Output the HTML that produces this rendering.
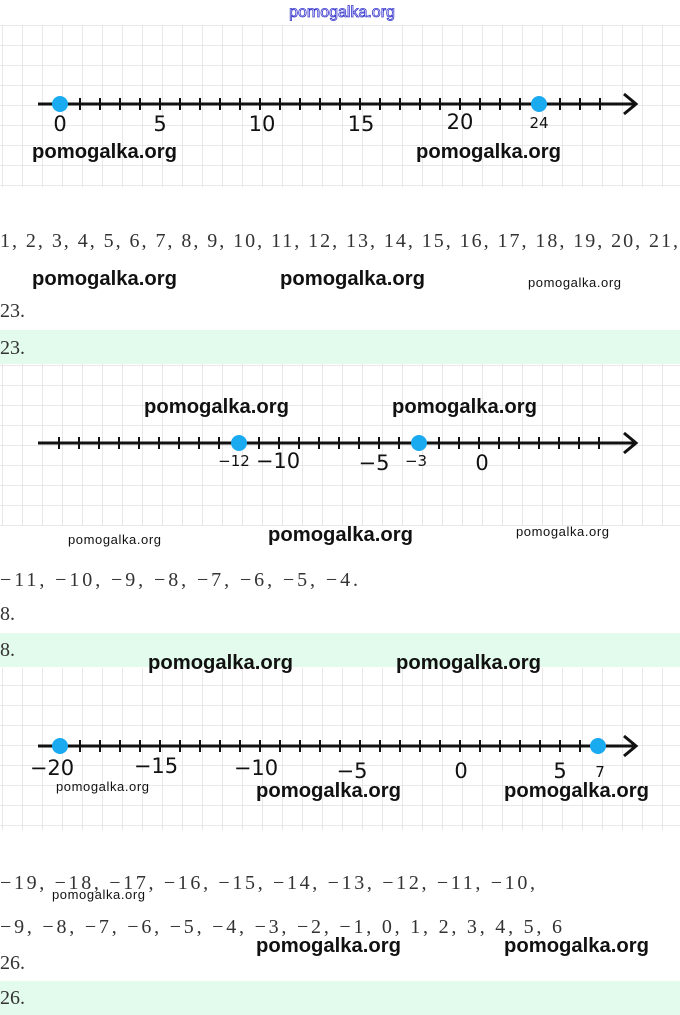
<!DOCTYPE html>
<html><head><meta charset="utf-8"><style>
body{margin:0;background:#fff}
svg{display:block}
.w{font-family:"Liberation Sans",sans-serif;font-size:20px;font-weight:bold;fill:#111}
.ws{font-family:"Liberation Sans",sans-serif;font-size:13px;fill:#111}
.s{font-family:"Liberation Serif",serif;font-size:20px;fill:#333}
.n{font-family:"DejaVu Sans","Liberation Sans",sans-serif;font-size:21px;fill:#111}
.sm{font-family:"DejaVu Sans","Liberation Sans",sans-serif;font-size:15px;fill:#111}
</style></head><body>
<svg width="680" height="1015" xmlns="http://www.w3.org/2000/svg">
<defs>
<pattern id="g" x="2" y="5" width="20" height="20" patternUnits="userSpaceOnUse">
<path d="M0 0H20M0 0V20" stroke="#dcdcdc" stroke-width="1.3" fill="none"/>
</pattern>
</defs>
<text x="342" y="17" text-anchor="middle" font-family="Liberation Sans,sans-serif" font-size="16" fill="#fff" stroke="#3333cc" stroke-width="0.8">pomogalka.org</text>
<rect x="0" y="25" width="680" height="162" fill="url(#g)"/>
<rect x="0" y="364" width="680" height="162" fill="url(#g)"/>
<rect x="0" y="668" width="680" height="162" fill="url(#g)"/>
<rect x="0" y="330" width="680" height="34" fill="#e3fbec"/>
<rect x="0" y="633" width="680" height="34" fill="#e3fbec"/>
<rect x="0" y="981" width="680" height="34" fill="#e3fbec"/>

<g stroke="#111" stroke-width="3" fill="none">
<path d="M38 104H636M624 94L636 104L624 114"/>
<path d="M60 98v12M80 98v12M100 98v12M120 98v12M140 98v12M160 98v12M180 98v12M200 98v12M220 98v12M240 98v12M260 98v12M280 98v12M300 98v12M320 98v12M340 98v12M360 98v12M380 98v12M400 98v12M420 98v12M440 98v12M460 98v12M480 98v12M500 98v12M520 98v12M540 98v12M560 98v12M580 98v12M600 98v12" stroke-width="2"/>
</g>
<circle cx="60" cy="104" r="8" fill="#1aaaf0"/><circle cx="539" cy="104" r="8" fill="#1aaaf0"/>
<g class="n" text-anchor="middle"><text x="60" y="131">0</text><text x="160" y="131">5</text><text x="262" y="131">10</text><text x="361" y="131">15</text><text x="460" y="129">20</text></g>
<text x="539" y="128" class="sm" text-anchor="middle">24</text>
<text x="32" y="158" class="w" textLength="145" lengthAdjust="spacingAndGlyphs">pomogalka.org</text><text x="416" y="158" class="w" textLength="145" lengthAdjust="spacingAndGlyphs">pomogalka.org</text>

<text x="0" y="247" class="s" textLength="678">1, 2, 3, 4, 5, 6, 7, 8, 9, 10, 11, 12, 13, 14, 15, 16, 17, 18, 19, 20, 21,</text>
<text x="32" y="285" class="w" textLength="145" lengthAdjust="spacingAndGlyphs">pomogalka.org</text><text x="280" y="285" class="w" textLength="145" lengthAdjust="spacingAndGlyphs">pomogalka.org</text><text x="528" y="287" class="ws" textLength="93">pomogalka.org</text>
<text x="0" y="317" class="s">23.</text>
<text x="0" y="354" class="s">23.</text>

<g stroke="#111" stroke-width="3" fill="none">
<path d="M38 443H636M624 433L636 443L624 453"/>
<path d="M59 437v12M79 437v12M99 437v12M119 437v12M139 437v12M159 437v12M179 437v12M199 437v12M219 437v12M239 437v12M259 437v12M279 437v12M299 437v12M319 437v12M339 437v12M359 437v12M379 437v12M399 437v12M419 437v12M439 437v12M459 437v12M479 437v12M499 437v12M519 437v12M539 437v12M559 437v12M579 437v12M599 437v12" stroke-width="2"/>
</g>
<circle cx="239" cy="443" r="8" fill="#1aaaf0"/><circle cx="419" cy="443" r="8" fill="#1aaaf0"/>
<g class="n" text-anchor="middle"><text x="278" y="468">−10</text><text x="374" y="470">−5</text><text x="482" y="470">0</text></g>
<g class="sm" text-anchor="middle"><text x="234" y="466">−12</text><text x="416" y="466">−3</text></g>
<text x="144" y="413" class="w" textLength="145" lengthAdjust="spacingAndGlyphs">pomogalka.org</text><text x="392" y="413" class="w" textLength="145" lengthAdjust="spacingAndGlyphs">pomogalka.org</text>
<text x="68" y="544" class="ws" textLength="93">pomogalka.org</text><text x="268" y="541" class="w" textLength="145" lengthAdjust="spacingAndGlyphs">pomogalka.org</text><text x="516" y="536" class="ws" textLength="93">pomogalka.org</text>

<text x="0" y="586" class="s" textLength="358">−11, −10, −9, −8, −7, −6, −5, −4.</text>
<text x="0" y="620" class="s">8.</text>
<text x="0" y="656" class="s">8.</text>
<text x="148" y="669" class="w" textLength="145" lengthAdjust="spacingAndGlyphs">pomogalka.org</text><text x="396" y="669" class="w" textLength="145" lengthAdjust="spacingAndGlyphs">pomogalka.org</text>

<g stroke="#111" stroke-width="3" fill="none">
<path d="M38 746H636M624 736L636 746L624 756"/>
<path d="M60 740v12M80 740v12M100 740v12M120 740v12M140 740v12M160 740v12M180 740v12M200 740v12M220 740v12M240 740v12M260 740v12M280 740v12M300 740v12M320 740v12M340 740v12M360 740v12M380 740v12M400 740v12M420 740v12M440 740v12M460 740v12M480 740v12M500 740v12M520 740v12M540 740v12M560 740v12M580 740v12M600 740v12" stroke-width="2"/>
</g>
<circle cx="60" cy="746" r="8" fill="#1aaaf0"/><circle cx="598" cy="746" r="8" fill="#1aaaf0"/>
<g class="n" text-anchor="middle"><text x="52" y="775">−20</text><text x="156" y="773">−15</text><text x="256" y="775">−10</text><text x="352" y="778">−5</text><text x="461" y="778">0</text><text x="560" y="778">5</text></g>
<text x="600" y="777" class="sm" text-anchor="middle">7</text>
<text x="56" y="791" class="ws" textLength="93">pomogalka.org</text><text x="256" y="797" class="w" textLength="145" lengthAdjust="spacingAndGlyphs">pomogalka.org</text><text x="504" y="797" class="w" textLength="145" lengthAdjust="spacingAndGlyphs">pomogalka.org</text>

<text x="0" y="889" class="s" textLength="535">−19, −18, −17, −16, −15, −14, −13, −12, −11, −10,</text>
<text x="52" y="899" class="ws" textLength="93">pomogalka.org</text>
<text x="0" y="933" class="s" textLength="562">−9, −8, −7, −6, −5, −4, −3, −2, −1, 0, 1, 2, 3, 4, 5, 6</text>
<text x="256" y="952" class="w" textLength="145" lengthAdjust="spacingAndGlyphs">pomogalka.org</text><text x="504" y="952" class="w" textLength="145" lengthAdjust="spacingAndGlyphs">pomogalka.org</text>
<text x="0" y="969" class="s">26.</text>
<text x="0" y="1004" class="s">26.</text>
</svg>
</body></html>
